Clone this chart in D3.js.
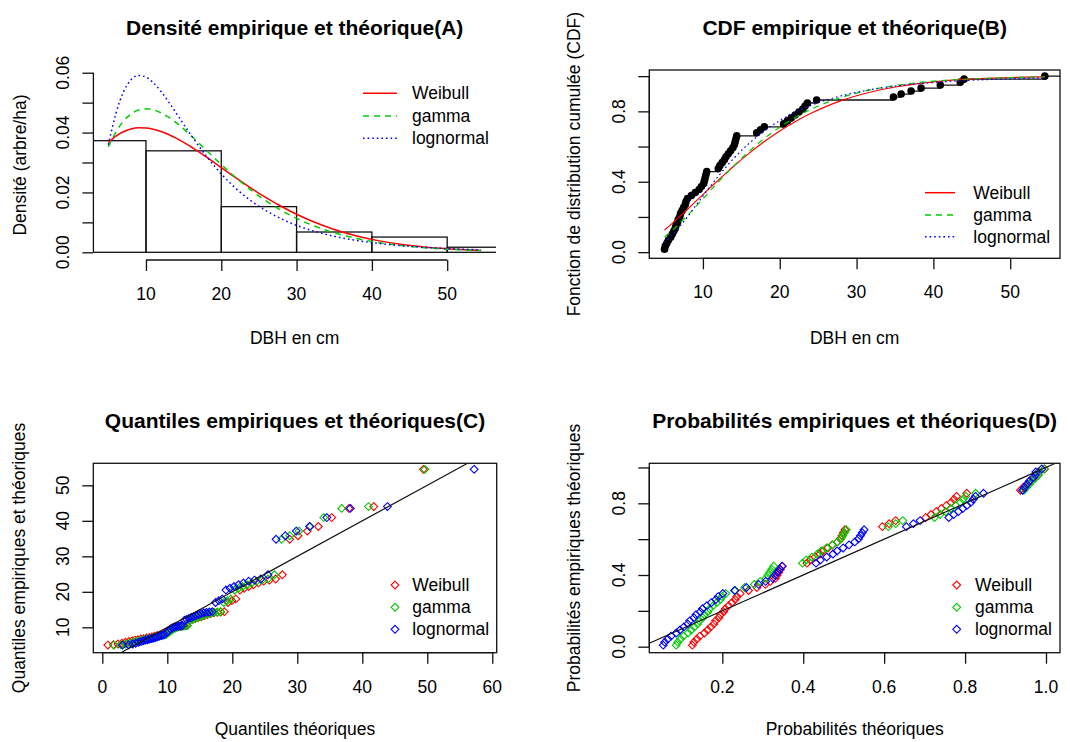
<!DOCTYPE html>
<html><head><meta charset="utf-8">
<script src="https://cdn.jsdelivr.net/npm/d3@7"></script>
<style>
body{margin:0;background:#fff}
svg{display:block}
</style>
</head><body>
<svg id="chart" width="1070" height="742"></svg>
<script>
// ---------------- data ----------------
const dbh = [5.0,5.1,5.3,5.5,5.8,6.0,6.2,6.4,6.5,6.7,6.8,7.0,7.1,7.3,7.5,7.7,7.8,8.0,8.5,9.0,9.5,9.8,
  10.1,10.2,10.3,10.4,10.5,12.0,12.2,12.5,12.8,13.0,13.3,13.6,13.9,14.1,14.2,14.3,14.4,17.0,17.5,18.0,
  20.5,21.0,21.5,22.0,22.5,23.0,23.3,23.6,24.8,34.8,35.8,37.1,38.4,40.9,43.5,44.0,54.5];
const empCdf = [0.0169,0.0339,0.0508,0.0678,0.0847,0.1017,0.1186,0.1356,0.1525,0.1695,0.1864,0.2034,0.2203,0.2373,0.2542,
  0.2712,0.2881,0.3051,0.3220,0.3390,0.3559,0.3729,0.3898,0.4068,0.4237,0.4407,0.4576,0.4746,0.4915,0.5085,
  0.5254,0.5424,0.5593,0.5763,0.5932,0.6102,0.6271,0.6441,0.6610,0.6780,0.6949,0.7119,0.7288,0.7458,0.7627,
  0.7797,0.7966,0.8136,0.8305,0.8475,0.8644,0.8814,0.8983,0.9153,0.9322,0.9492,0.9661,0.9831,1.0];
const empProb = [0.0085,0.0254,0.0424,0.0593,0.0763,0.0932,0.1102,0.1271,0.1441,0.1610,0.1780,0.1949,0.2119,0.2288,0.2458,
  0.2627,0.2797,0.2966,0.3136,0.3305,0.3475,0.3644,0.3814,0.3983,0.4153,0.4322,0.4492,0.4661,0.4831,0.5000,
  0.5169,0.5339,0.5508,0.5678,0.5847,0.6017,0.6186,0.6356,0.6525,0.6695,0.6864,0.7034,0.7203,0.7373,0.7542,
  0.7712,0.7881,0.8051,0.8220,0.8390,0.8559,0.8729,0.8898,0.9068,0.9237,0.9407,0.9576,0.9746,0.9915];

const distNames = ["Weibull","gamma","lognormal"];
const distColors = ["#ff0000","#00cd00","#0000ff"];
const distDash = [null,"6,5","1.6,3"];

const histBreaks = [0,10,20,30,40,50,60];

const curveX = [5,6,7,8,9,10,11,12,13,14,16,18,20,22,24,26,28,30,32,35,38,41,44,47,50,54.5];
const densWeibull = [0.03664,0.03881,0.04029,0.04119,0.04157,0.04153,0.04111,0.04037,0.03936,0.03814,0.03520,0.03184,0.02830,
  0.02477,0.02137,0.01818,0.01529,0.01270,0.01044,0.00763,0.00546,0.00382,0.00263,0.00177,0.00117,0.00061];
const densGamma = [0.03519,0.04015,0.04378,0.04619,0.04752,0.04793,0.04758,0.04659,0.04513,0.04330,0.03893,0.03413,0.02933,
  0.02481,0.02070,0.01709,0.01397,0.01133,0.00912,0.00651,0.00460,0.00321,0.00223,0.00153,0.00104,0.00058];
const densLognormal = [0.03593,0.04630,0.05351,0.05759,0.05906,0.05853,0.05658,0.05370,0.05027,0.04656,0.03908,0.03218,0.02618,
  0.02119,0.01712,0.01381,0.01114,0.00900,0.00729,0.00534,0.00394,0.00292,0.00219,0.00165,0.00125,0.00084];

const cdfWeibull = [0.1259,0.1637,0.2033,0.2440,0.2855,0.3270,0.3684,0.4091,0.4490,0.4878,0.5612,0.6283,0.6885,
  0.7415,0.7876,0.8271,0.8606,0.8885,0.9116,0.9385,0.9580,0.9718,0.9814,0.9879,0.9923,0.9962];
const cdfGamma = [0.0861,0.1230,0.1642,0.2087,0.2552,0.3029,0.3507,0.3981,0.4443,0.4890,0.5721,0.6460,0.7100,
  0.7645,0.8101,0.8479,0.8788,0.9039,0.9240,0.9470,0.9633,0.9747,0.9824,0.9882,0.9919,0.9955];
const cdfLognormal = [0.0540,0.0953,0.1456,0.2013,0.2598,0.3188,0.3764,0.4316,0.4836,0.5321,0.6176,0.6888,0.7476,
  0.7948,0.8325,0.8633,0.8881,0.9082,0.9244,0.9432,0.9570,0.9673,0.9749,0.9806,0.9849,0.9895];

const qqWeibull = [0.85,1.73,2.42,3.02,3.56,4.08,4.57,5.03,5.49,5.93,6.37,6.79,7.21,7.63,8.04,8.45,8.86,9.27,9.68,10.08,
  10.49,10.90,11.32,11.73,12.15,12.58,13.00,13.44,13.88,14.32,14.78,15.24,15.71,16.19,16.68,17.18,17.70,18.23,18.78,19.34,
  19.93,20.54,21.17,21.83,22.52,23.25,24.02,24.84,25.72,26.67,27.70,28.84,30.11,31.55,33.24,35.29,37.93,41.76,49.40];
const qqGamma = [1.79,2.86,3.59,4.19,4.73,5.21,5.67,6.10,6.53,6.93,7.32,7.70,8.07,8.44,8.80,9.16,9.51,9.87,10.22,10.57,
  10.93,11.29,11.64,12.00,12.37,12.73,13.11,13.48,13.87,14.25,14.65,15.05,15.47,15.89,16.32,16.77,17.23,17.70,18.19,18.70,
  19.23,19.78,20.36,20.96,21.60,22.28,22.99,23.76,24.59,25.49,26.48,27.60,28.84,30.26,31.96,34.07,36.83,40.96,49.63];
const qqLognormal = [3.11,4.05,4.66,5.14,5.57,5.96,6.31,6.65,6.97,7.29,7.59,7.89,8.18,8.47,8.76,9.05,9.34,9.63,9.91,10.20,
  10.50,10.79,11.09,11.39,11.70,12.01,12.33,12.66,12.99,13.33,13.68,14.04,14.41,14.80,15.19,15.60,16.03,16.47,16.93,17.42,
  17.93,18.46,19.03,19.64,20.28,20.97,21.72,22.52,23.41,24.38,25.48,26.74,28.16,29.84,31.89,34.54,38.16,43.87,57.21];

const ppWeibull = [0.1259,0.1295,0.1370,0.1445,0.1559,0.1637,0.1714,0.1793,0.1833,0.1912,0.1952,0.2033,0.2073,0.2154,0.2236,
  0.2317,0.2358,0.2440,0.2647,0.2855,0.3063,0.3188,0.3312,0.3354,0.3395,0.3437,0.3478,0.4091,0.4172,0.4292,
  0.4411,0.4490,0.4609,0.4725,0.4840,0.4917,0.4954,0.4992,0.5030,0.5956,0.6122,0.6284,0.7024,0.7159,0.7290,
  0.7415,0.7537,0.7655,0.7723,0.7789,0.8042,0.9370,0.9444,0.9528,0.9601,0.9714,0.9800,0.9814,0.9962];
const ppGamma = [0.0861,0.0896,0.0966,0.1039,0.1152,0.1230,0.1309,0.1390,0.1431,0.1515,0.1557,0.1642,0.1685,0.1773,0.1861,
  0.1951,0.1996,0.2087,0.2318,0.2552,0.2790,0.2933,0.3077,0.3125,0.3173,0.3220,0.3269,0.3981,0.4074,0.4214,
  0.4351,0.4443,0.4579,0.4713,0.4846,0.4933,0.4976,0.5020,0.5063,0.6103,0.6285,0.6460,0.7245,0.7384,0.7518,
  0.7645,0.7767,0.7884,0.7951,0.8016,0.8261,0.9457,0.9519,0.9590,0.9651,0.9741,0.9813,0.9824,0.9955];
const ppLognormal = [0.0540,0.0576,0.0653,0.0734,0.0863,0.0954,0.1048,0.1145,0.1195,0.1297,0.1349,0.1455,0.1509,0.1618,0.1729,
  0.1841,0.1898,0.2013,0.2304,0.2598,0.2894,0.3070,0.3246,0.3304,0.3362,0.3420,0.3478,0.4316,0.4423,0.4580,
  0.4735,0.4836,0.4986,0.5131,0.5274,0.5367,0.5413,0.5459,0.5504,0.6549,0.6723,0.6888,0.7598,0.7719,0.7834,
  0.7943,0.8046,0.8144,0.8201,0.8255,0.8456,0.9422,0.9473,0.9533,0.9586,0.9670,0.9737,0.9749,0.9895];

// tick values
const ticksA_x = [10,20,30,40,50];
const ticksA_y = [0,0.01,0.02,0.03,0.04,0.05,0.06];
const labelsA_y = [0,0.02,0.04,0.06];
const ticksB_x = [10,20,30,40,50];
const ticksB_y = [0,0.2,0.4,0.6,0.8,1.0];
const labelsB_y = [0,0.4,0.8];
const ticksC_x = [0,10,20,30,40,50,60];
const ticksC_y = [10,20,30,40,50];
const ticksD_x = [0.2,0.4,0.6,0.8,1.0];
const ticksD_y = [0,0.2,0.4,0.6,0.8,1.0];
const labelsD_y = [0,0.4,0.8];

const titles = ["Densité empirique et théorique(A)","CDF empirique et théorique(B)",
  "Quantiles empiriques et théoriques(C)","Probabilités empiriques et théoriques(D)"];

// ---------------- drawing ----------------
const FONT = '"Liberation Sans", Arial, Helvetica, sans-serif';
const FS = 17.5, TFS = 21, LW = 1.3;
const svg = d3.select("#chart");
svg.append("rect").attr("width",1070).attr("height",742).attr("fill","#fff");

function txt(x, y, s, opts = {}) {
  const t = svg.append("text").attr("x", x).attr("y", y).text(s)
    .attr("font-family", FONT).attr("font-size", opts.size || FS)
    .attr("font-weight", opts.bold ? "bold" : "normal")
    .attr("text-anchor", opts.anchor || "middle").attr("fill", "#000");
  if (opts.rotate) t.attr("transform", `rotate(-90,${x},${y})`);
  return t;
}

function drawAxis(orient, scale, ticks, labels, fmt, at) {
  const ax = (orient === "bottom" ? d3.axisBottom(scale) : d3.axisLeft(scale))
    .tickValues(ticks).tickSize(11).tickSizeOuter(0).tickFormat("");
  const g = svg.append("g")
    .attr("transform", orient === "bottom" ? `translate(0,${at})` : `translate(${at},0)`)
    .call(ax);
  g.select(".domain").remove();
  g.selectAll(".tick line").attr("stroke", "#111").attr("stroke-width", LW);
  const a = scale(ticks[0]), b = scale(ticks[ticks.length - 1]);
  if (orient === "bottom") {
    g.append("line").attr("x1", a).attr("x2", b).attr("y1", 0).attr("y2", 0)
      .attr("stroke", "#111").attr("stroke-width", LW);
    g.selectAll("text.lab").data(labels).join("text").attr("class", "lab")
      .attr("x", d => scale(d)).attr("y", 40).attr("text-anchor", "middle")
      .attr("font-family", FONT).attr("font-size", FS).attr("fill", "#000").text(fmt);
  } else {
    g.append("line").attr("x1", 0).attr("x2", 0).attr("y1", a).attr("y2", b)
      .attr("stroke", "#111").attr("stroke-width", LW);
    g.selectAll("text.lab").data(labels).join("text").attr("class", "lab")
      .attr("transform", d => `translate(-24,${scale(d)}) rotate(-90)`).attr("text-anchor", "middle")
      .attr("font-family", FONT).attr("font-size", FS).attr("fill", "#000").text(fmt);
  }
}

function clip(id, x0, y0, x1, y1) {
  svg.append("clipPath").attr("id", id).append("rect")
    .attr("x", x0).attr("y", y0).attr("width", x1 - x0).attr("height", y1 - y0);
}
function box(x0, y0, x1, y1) {
  svg.append("rect").attr("x", x0).attr("y", y0).attr("width", x1 - x0).attr("height", y1 - y0)
    .attr("fill", "none").attr("stroke", "#111").attr("stroke-width", LW);
}
function diamond(h) { return `M0,${-h}L${h},0L0,${h}L${-h},0Z`; }

// ===== Panel A : density =====
{
  const L = 93.4, R = 496, T = 70, B = 260;
  const x = d3.scaleLinear().domain([3.02, 56.48]).range([L, R]);
  const y = d3.scaleLinear().domain([0, 0.06]).range([252.3, 72.7]);
  clip("clipA", L, T - 20, R, B);
  const bins = d3.bin().domain([histBreaks[0], histBreaks[histBreaks.length - 1]])
    .thresholds(histBreaks.slice(1, -1))(dbh);
  const gA = svg.append("g").attr("clip-path", "url(#clipA)");
  gA.selectAll("rect").data(bins).join("rect")
    .attr("x", d => x(d.x0)).attr("width", d => x(d.x1) - x(d.x0))
    .attr("y", d => y(d.length / (dbh.length * (d.x1 - d.x0))))
    .attr("height", d => y(0) - y(d.length / (dbh.length * (d.x1 - d.x0))))
    .attr("fill", "none").attr("stroke", "#111").attr("stroke-width", LW);
  const dens = [densWeibull, densGamma, densLognormal];
  const line = d3.line().x(d => x(d[0])).y(d => y(d[1])).curve(d3.curveMonotoneX);
  dens.forEach((arr, k) => {
    gA.append("path").datum(curveX.map((v, i) => [v, arr[i]])).attr("d", line)
      .attr("fill", "none").attr("stroke", distColors[k]).attr("stroke-width", 1.5)
      .attr("stroke-dasharray", distDash[k]);
  });
  drawAxis("bottom", x, ticksA_x, ticksA_x, d3.format("d"), B);
  drawAxis("left", y, ticksA_y, labelsA_y, d3.format(".2f"), L);
  txt((L + R) / 2, 35, titles[0], { bold: true, size: TFS });
  txt((L + R) / 2, 344, "DBH en cm");
  txt(26, 165, "Densité (arbre/ha)", { rotate: true });
  const ly = [93.3, 116, 138.3];
  distNames.forEach((n, k) => {
    svg.append("line").attr("x1", 363).attr("x2", 397).attr("y1", ly[k]).attr("y2", ly[k])
      .attr("stroke", distColors[k]).attr("stroke-width", 1.5).attr("stroke-dasharray", distDash[k]);
    txt(412, ly[k] + 6, n, { anchor: "start" });
  });
}

// ===== Panel B : CDF =====
{
  const L = 649.3, R = 1060, T = 70, B = 258.3;
  const x = d3.scaleLinear().domain([3.02, 56.48]).range([L, R]);
  const y = d3.scaleLinear().domain([-0.035, 1.035]).range([B, T]);
  clip("clipB", L, T, R, B);
  const g = svg.append("g").attr("clip-path", "url(#clipB)");
  // empirical step function
  g.selectAll("line.step").data(dbh).join("line").attr("class", "step")
    .attr("x1", d => x(d)).attr("x2", (d, i) => x(i < dbh.length - 1 ? dbh[i + 1] : 56.48))
    .attr("y1", (d, i) => y(empCdf[i])).attr("y2", (d, i) => y(empCdf[i]))
    .attr("stroke", "#111").attr("stroke-width", LW);
  g.selectAll("circle").data(dbh).join("circle")
    .attr("cx", d => x(d)).attr("cy", (d, i) => y(empCdf[i])).attr("r", 3.8).attr("fill", "#000");
  const cdfs = [cdfWeibull, cdfGamma, cdfLognormal];
  const line = d3.line().x(d => x(d[0])).y(d => y(d[1])).curve(d3.curveMonotoneX);
  cdfs.forEach((arr, k) => {
    g.append("path").datum(curveX.map((v, i) => [v, arr[i]])).attr("d", line)
      .attr("fill", "none").attr("stroke", distColors[k]).attr("stroke-width", 1.2)
      .attr("stroke-dasharray", distDash[k]);
  });
  box(L, T, R, B);
  drawAxis("bottom", x, ticksB_x, ticksB_x, d3.format("d"), B);
  drawAxis("left", y, ticksB_y, labelsB_y, d3.format(".1f"), L);
  txt((L + R) / 2, 35, titles[1], { bold: true, size: TFS });
  txt((L + R) / 2, 344, "DBH en cm");
  txt(580.5, (T + B) / 2, "Fonction de distribution cumulée (CDF)", { rotate: true });
  const ly = [192.7, 215, 236.7];
  distNames.forEach((n, k) => {
    svg.append("line").attr("x1", 925).attr("x2", 955).attr("y1", ly[k]).attr("y2", ly[k])
      .attr("stroke", distColors[k]).attr("stroke-width", 1.5).attr("stroke-dasharray", distDash[k]);
    txt(973.3, ly[k] + 6, n, { anchor: "start" });
  });
}

// ===== Panel C : Q-Q =====
{
  const L = 93.3, R = 496.7, T = 463.3, B = 652.7;
  const x = d3.scaleLinear().domain([-1.385, 60.68]).range([L, R]);
  const y = d3.scaleLinear().domain([2.85, 56.2]).range([B, T]);
  clip("clipC", L, T, R, B);
  const g = svg.append("g").attr("clip-path", "url(#clipC)");
  const qqs = [qqWeibull, qqGamma, qqLognormal];
  qqs.forEach((arr, k) => {
    g.selectAll(null).data(arr).join("path")
      .attr("transform", (d, i) => `translate(${x(d)},${y(dbh[i])})`).attr("d", diamond(3.9))
      .attr("fill", "none").attr("stroke", distColors[k]).attr("stroke-width", 1.1);
  });
  g.append("line").attr("x1", x(2.85)).attr("y1", y(2.85)).attr("x2", x(56.2)).attr("y2", y(56.2))
    .attr("stroke", "#111").attr("stroke-width", 1.2);
  box(L, T, R, B);
  drawAxis("bottom", x, ticksC_x, ticksC_x, d3.format("d"), B);
  drawAxis("left", y, ticksC_y, ticksC_y, d3.format("d"), L);
  txt((L + R) / 2, 428, titles[2], { bold: true, size: TFS });
  txt((L + R) / 2, 735, "Quantiles théoriques");
  txt(25, (T + B) / 2, "Quantiles empiriques et théoriques", { rotate: true });
  const ly = [585, 607.3, 629.3];
  distNames.forEach((n, k) => {
    svg.append("path").attr("transform", `translate(395,${ly[k]})`).attr("d", diamond(3.9))
      .attr("fill", "none").attr("stroke", distColors[k]).attr("stroke-width", 1.1);
    txt(412.3, ly[k] + 6, n, { anchor: "start" });
  });
}

// ===== Panel D : P-P =====
{
  const L = 649.3, R = 1060, T = 463.3, B = 652.7;
  const x = d3.scaleLinear().domain([0.0195, 1.0346]).range([L, R]);
  const y = d3.scaleLinear().domain([-0.0335, 1.0232]).range([B, T]);
  clip("clipD", L, T, R, B);
  const g = svg.append("g").attr("clip-path", "url(#clipD)");
  const pps = [ppWeibull, ppGamma, ppLognormal];
  pps.forEach((arr, k) => {
    g.selectAll(null).data(arr).join("path")
      .attr("transform", (d, i) => `translate(${x(d)},${y(empProb[i])})`).attr("d", diamond(3.9))
      .attr("fill", "none").attr("stroke", distColors[k]).attr("stroke-width", 1.1);
  });
  g.append("line").attr("x1", x(0.0195)).attr("y1", y(0.0195)).attr("x2", x(1.0232)).attr("y2", y(1.0232))
    .attr("stroke", "#111").attr("stroke-width", 1.2);
  box(L, T, R, B);
  drawAxis("bottom", x, ticksD_x, ticksD_x, d3.format(".1f"), B);
  drawAxis("left", y, ticksD_y, labelsD_y, d3.format(".1f"), L);
  txt((L + R) / 2, 428, titles[3], { bold: true, size: TFS });
  txt((L + R) / 2, 735, "Probabilités théoriques");
  txt(579.5, (T + B) / 2, "Probabilités empiriques théoriques", { rotate: true });
  const ly = [585, 607.3, 629.3];
  distNames.forEach((n, k) => {
    svg.append("path").attr("transform", `translate(956.7,${ly[k]})`).attr("d", diamond(3.9))
      .attr("fill", "none").attr("stroke", distColors[k]).attr("stroke-width", 1.1);
    txt(975, ly[k] + 6, n, { anchor: "start" });
  });
}
</script>
</body></html>
